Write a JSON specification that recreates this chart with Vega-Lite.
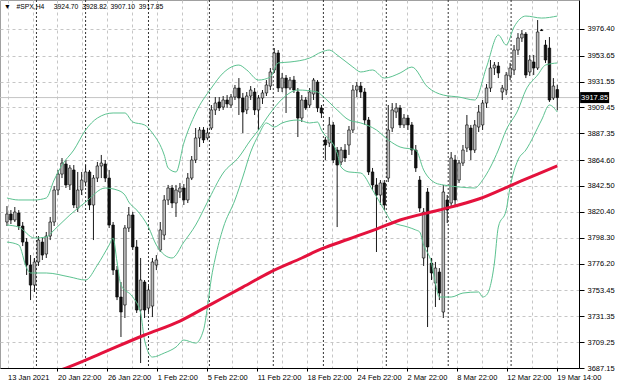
{
"$schema": "https://vega.github.io/schema/vega-lite/v6.json",
"width": 579, "height": 368,
"autosize": {"type": "none"},
"padding": {"left": 0, "top": 0, "right": 41, "bottom": 20},
"background": "white",
"view": {"stroke": "#a0a0a0", "strokeWidth": 1},
"config": {"font": "Liberation Sans", "axis": {"labelOverlap": false}},
"title": {"text": "▼\u00a0\u00a0\u00a0#SPX,H4\u00a0\u00a0\u00a0\u00a0\u00a03924.70\u00a0\u00a03928.82\u00a0\u00a03907.10\u00a0\u00a03917.85", "anchor": "start", "frame": "group", "offset": -11, "dx": 4, "fontSize": 6.8, "font": "Liberation Sans", "fontWeight": "normal", "color": "#000000"},
"datasets": {
"last": [{"p": 3917.85, "t": "3917.85"}],
"seps": [{"i": 7.5}, {"i": 20}, {"i": 36}, {"i": 51.5}, {"i": 67.75}, {"i": 80.5}, {"i": 96.5}, {"i": 112.25}, {"i": 128.25}],
"bars": [
{"i":0,"o":3811.7,"h":3825.3,"l":3808.3,"c":3818.5},
{"i":1,"o":3818.5,"h":3821.9,"l":3810.0,"c":3813.4},
{"i":2,"o":3813.4,"h":3824.5,"l":3811.7,"c":3820.2},
{"i":3,"o":3819.4,"h":3821.9,"l":3804.9,"c":3808.3},
{"i":4,"o":3808.3,"h":3811.7,"l":3791.2,"c":3794.6},
{"i":5,"o":3794.6,"h":3798.0,"l":3766.5,"c":3775.0},
{"i":6,"o":3775.0,"h":3783.5,"l":3745.1,"c":3757.9},
{"i":7,"o":3757.9,"h":3781.0,"l":3752.0,"c":3777.6},
{"i":8,"o":3777.6,"h":3799.7,"l":3774.2,"c":3796.3},
{"i":9,"o":3794.6,"h":3798.9,"l":3779.3,"c":3783.5},
{"i":10,"o":3784.4,"h":3803.2,"l":3781.0,"c":3799.7},
{"i":11,"o":3799.7,"h":3816.0,"l":3796.3,"c":3811.7},
{"i":12,"o":3811.7,"h":3842.4,"l":3808.3,"c":3839.0},
{"i":13,"o":3839.0,"h":3856.1,"l":3834.7,"c":3852.6},
{"i":14,"o":3852.6,"h":3866.3,"l":3849.2,"c":3862.0},
{"i":15,"o":3861.2,"h":3864.6,"l":3840.7,"c":3843.3},
{"i":16,"o":3843.3,"h":3860.3,"l":3839.0,"c":3857.8},
{"i":17,"o":3856.1,"h":3860.3,"l":3823.6,"c":3826.2},
{"i":18,"o":3823.6,"h":3854.4,"l":3820.2,"c":3839.0},
{"i":19,"o":3839.0,"h":3854.4,"l":3834.7,"c":3847.5},
{"i":20,"o":3845.8,"h":3860.3,"l":3842.4,"c":3854.4},
{"i":21,"o":3854.4,"h":3856.1,"l":3821.9,"c":3826.2},
{"i":22,"o":3826.2,"h":3851.8,"l":3796.3,"c":3849.2},
{"i":23,"o":3849.2,"h":3862.9,"l":3845.8,"c":3859.5},
{"i":24,"o":3859.5,"h":3868.9,"l":3849.2,"c":3862.0},
{"i":25,"o":3861.2,"h":3864.6,"l":3845.8,"c":3849.2},
{"i":26,"o":3849.2,"h":3856.1,"l":3806.6,"c":3809.1},
{"i":27,"o":3809.1,"h":3811.7,"l":3766.5,"c":3770.7},
{"i":28,"o":3770.7,"h":3774.2,"l":3745.1,"c":3747.7},
{"i":29,"o":3747.7,"h":3760.5,"l":3713.6,"c":3734.9},
{"i":30,"o":3740.9,"h":3809.1,"l":3729.8,"c":3806.6},
{"i":31,"o":3806.6,"h":3824.5,"l":3803.2,"c":3817.7},
{"i":32,"o":3817.7,"h":3820.2,"l":3787.8,"c":3790.4},
{"i":33,"o":3790.4,"h":3796.3,"l":3734.1,"c":3736.6},
{"i":34,"o":3736.6,"h":3781.0,"l":3691.4,"c":3762.2},
{"i":35,"o":3760.5,"h":3762.2,"l":3729.8,"c":3736.6},
{"i":36,"o":3738.3,"h":3757.1,"l":3734.9,"c":3753.7},
{"i":37,"o":3740.0,"h":3781.0,"l":3730.6,"c":3777.6},
{"i":38,"o":3775.0,"h":3783.5,"l":3770.7,"c":3779.3},
{"i":39,"o":3787.8,"h":3811.7,"l":3786.1,"c":3804.9},
{"i":40,"o":3800.6,"h":3834.7,"l":3796.3,"c":3830.5},
{"i":41,"o":3830.5,"h":3843.3,"l":3826.2,"c":3840.7},
{"i":42,"o":3840.7,"h":3843.3,"l":3823.6,"c":3827.9},
{"i":43,"o":3827.9,"h":3843.3,"l":3816.0,"c":3839.0},
{"i":44,"o":3837.3,"h":3845.0,"l":3832.2,"c":3840.7},
{"i":45,"o":3840.7,"h":3844.1,"l":3826.2,"c":3830.5},
{"i":46,"o":3830.5,"h":3853.5,"l":3827.9,"c":3849.2},
{"i":47,"o":3849.2,"h":3868.0,"l":3847.5,"c":3864.6},
{"i":48,"o":3864.6,"h":3891.9,"l":3862.0,"c":3883.4},
{"i":49,"o":3883.4,"h":3892.7,"l":3875.7,"c":3890.2},
{"i":50,"o":3890.2,"h":3892.7,"l":3879.1,"c":3881.7},
{"i":51,"o":3883.4,"h":3891.9,"l":3881.7,"c":3887.6},
{"i":52,"o":3891.9,"h":3911.5,"l":3890.2,"c":3907.3},
{"i":53,"o":3907.3,"h":3918.3,"l":3903.0,"c":3913.2},
{"i":54,"o":3914.1,"h":3918.3,"l":3906.4,"c":3909.0},
{"i":55,"o":3909.8,"h":3919.2,"l":3907.3,"c":3915.8},
{"i":56,"o":3915.8,"h":3920.0,"l":3909.0,"c":3912.4},
{"i":57,"o":3911.5,"h":3920.9,"l":3909.0,"c":3918.3},
{"i":58,"o":3918.3,"h":3928.6,"l":3915.8,"c":3926.0},
{"i":59,"o":3926.0,"h":3934.5,"l":3903.0,"c":3917.5},
{"i":60,"o":3917.5,"h":3921.8,"l":3887.6,"c":3905.5},
{"i":61,"o":3907.3,"h":3922.6,"l":3903.8,"c":3919.2},
{"i":62,"o":3919.2,"h":3927.7,"l":3915.8,"c":3924.3},
{"i":63,"o":3922.6,"h":3926.0,"l":3903.0,"c":3907.3},
{"i":64,"o":3907.3,"h":3920.0,"l":3890.2,"c":3917.5},
{"i":65,"o":3917.5,"h":3924.3,"l":3912.4,"c":3921.8},
{"i":66,"o":3921.8,"h":3932.8,"l":3919.2,"c":3928.6},
{"i":67,"o":3927.7,"h":3943.1,"l":3924.3,"c":3939.7},
{"i":68,"o":3941.4,"h":3960.1,"l":3938.8,"c":3955.9},
{"i":69,"o":3955.9,"h":3958.4,"l":3922.6,"c":3926.0},
{"i":70,"o":3926.0,"h":3938.8,"l":3922.6,"c":3934.5},
{"i":71,"o":3934.5,"h":3937.1,"l":3904.7,"c":3926.0},
{"i":72,"o":3926.0,"h":3935.4,"l":3924.3,"c":3932.8},
{"i":73,"o":3932.8,"h":3936.3,"l":3921.8,"c":3924.3},
{"i":74,"o":3922.6,"h":3926.0,"l":3884.2,"c":3900.4},
{"i":75,"o":3900.4,"h":3920.0,"l":3897.0,"c":3915.8},
{"i":76,"o":3915.8,"h":3918.3,"l":3907.3,"c":3909.0},
{"i":77,"o":3911.5,"h":3926.0,"l":3909.0,"c":3922.6},
{"i":78,"o":3920.9,"h":3934.5,"l":3915.8,"c":3932.8},
{"i":79,"o":3931.1,"h":3932.8,"l":3905.5,"c":3909.0},
{"i":80,"o":3909.0,"h":3911.5,"l":3900.4,"c":3904.7},
{"i":81,"o":3881.7,"h":3884.2,"l":3864.6,"c":3877.4},
{"i":82,"o":3879.1,"h":3901.3,"l":3875.7,"c":3894.5},
{"i":83,"o":3894.5,"h":3897.0,"l":3862.0,"c":3864.6},
{"i":84,"o":3873.1,"h":3875.7,"l":3807.4,"c":3860.3},
{"i":85,"o":3862.9,"h":3875.7,"l":3860.3,"c":3873.1},
{"i":86,"o":3873.1,"h":3878.2,"l":3862.9,"c":3866.3},
{"i":87,"o":3877.4,"h":3893.6,"l":3868.9,"c":3890.2},
{"i":88,"o":3890.2,"h":3928.6,"l":3887.6,"c":3924.3},
{"i":89,"o":3924.3,"h":3931.1,"l":3918.3,"c":3927.7},
{"i":90,"o":3927.7,"h":3931.1,"l":3917.5,"c":3922.6},
{"i":91,"o":3922.6,"h":3926.0,"l":3894.5,"c":3898.7},
{"i":92,"o":3898.7,"h":3901.3,"l":3851.8,"c":3854.4},
{"i":93,"o":3854.4,"h":3857.8,"l":3839.0,"c":3843.3},
{"i":94,"o":3843.3,"h":3849.2,"l":3786.1,"c":3834.7},
{"i":95,"o":3834.7,"h":3847.5,"l":3826.2,"c":3845.0},
{"i":96,"o":3845.0,"h":3847.5,"l":3821.9,"c":3826.2},
{"i":97,"o":3849.2,"h":3911.5,"l":3845.8,"c":3890.2},
{"i":98,"o":3891.9,"h":3913.2,"l":3888.5,"c":3907.3},
{"i":99,"o":3905.5,"h":3913.2,"l":3900.4,"c":3909.0},
{"i":100,"o":3909.0,"h":3911.5,"l":3891.9,"c":3894.5},
{"i":101,"o":3894.5,"h":3903.8,"l":3891.9,"c":3900.4},
{"i":102,"o":3900.4,"h":3903.0,"l":3890.2,"c":3894.5},
{"i":103,"o":3894.5,"h":3897.0,"l":3868.9,"c":3873.1},
{"i":104,"o":3873.1,"h":3877.4,"l":3854.4,"c":3857.8},
{"i":105,"o":3847.5,"h":3850.9,"l":3820.2,"c":3823.6},
{"i":106,"o":3781.0,"h":3823.6,"l":3774.2,"c":3820.2},
{"i":107,"o":3837.3,"h":3840.7,"l":3722.1,"c":3790.4},
{"i":108,"o":3776.7,"h":3781.0,"l":3762.2,"c":3768.2},
{"i":109,"o":3759.6,"h":3777.6,"l":3739.2,"c":3772.4},
{"i":110,"o":3769.0,"h":3772.4,"l":3745.1,"c":3751.1},
{"i":111,"o":3734.9,"h":3843.3,"l":3729.8,"c":3837.3},
{"i":112,"o":3830.5,"h":3834.7,"l":3810.8,"c":3821.9},
{"i":113,"o":3827.9,"h":3871.4,"l":3825.3,"c":3866.3},
{"i":114,"o":3864.6,"h":3868.9,"l":3826.2,"c":3830.5},
{"i":115,"o":3847.5,"h":3864.6,"l":3845.0,"c":3862.0},
{"i":116,"o":3862.0,"h":3877.4,"l":3859.5,"c":3873.1},
{"i":117,"o":3874.8,"h":3903.0,"l":3871.4,"c":3894.5},
{"i":118,"o":3891.9,"h":3894.5,"l":3864.6,"c":3873.1},
{"i":119,"o":3873.1,"h":3898.7,"l":3870.6,"c":3894.5},
{"i":120,"o":3892.7,"h":3911.5,"l":3888.5,"c":3905.5},
{"i":121,"o":3894.5,"h":3915.8,"l":3890.2,"c":3913.2},
{"i":122,"o":3913.2,"h":3929.4,"l":3909.0,"c":3926.0},
{"i":123,"o":3926.0,"h":3949.9,"l":3922.6,"c":3943.1},
{"i":124,"o":3943.1,"h":3948.2,"l":3937.1,"c":3945.6},
{"i":125,"o":3944.8,"h":3948.2,"l":3934.5,"c":3938.8},
{"i":126,"o":3922.6,"h":3928.6,"l":3915.8,"c":3926.0},
{"i":127,"o":3924.3,"h":3939.7,"l":3920.0,"c":3937.1},
{"i":128,"o":3936.3,"h":3947.4,"l":3932.8,"c":3943.1},
{"i":129,"o":3941.4,"h":3962.7,"l":3937.1,"c":3958.4},
{"i":130,"o":3958.4,"h":3972.9,"l":3954.2,"c":3968.7},
{"i":131,"o":3968.7,"h":3975.5,"l":3965.3,"c":3972.1},
{"i":132,"o":3972.1,"h":3973.8,"l":3934.5,"c":3937.1},
{"i":133,"o":3939.7,"h":3954.2,"l":3936.3,"c":3949.9},
{"i":134,"o":3948.2,"h":3954.2,"l":3937.1,"c":3943.1},
{"i":135,"o":3943.1,"h":3984.0,"l":3941.4,"c":3973.8},
{"i":136,"o":3975.5,"h":3976.4,"l":3974.7,"c":3975.0},
{"i":137,"o":3962.7,"h":3967.0,"l":3947.4,"c":3949.9},
{"i":138,"o":3960.1,"h":3969.5,"l":3914.1,"c":3915.8},
{"i":139,"o":3917.5,"h":3934.5,"l":3915.8,"c":3927.7},
{"i":140,"o":3924.70,"h":3928.82,"l":3907.10,"c":3917.85}
],
"bands": [
{"i":0,"b":"u","v":3832.2},{"i":3,"b":"u","v":3830.5},{"i":7,"b":"u","v":3830.5},{"i":10,"b":"u","v":3832.2},{"i":12,"b":"u","v":3847.5},{"i":14,"b":"u","v":3860.3},{"i":17,"b":"u","v":3873.1},{"i":20,"b":"u","v":3890.2},{"i":23,"b":"u","v":3900.4},{"i":27,"b":"u","v":3904.7},{"i":30,"b":"u","v":3904.7},{"i":32,"b":"u","v":3897.0},{"i":35,"b":"u","v":3894.5},{"i":37,"b":"u","v":3887.6},{"i":40,"b":"u","v":3868.9},{"i":41,"b":"u","v":3857.8},{"i":43,"b":"u","v":3854.4},{"i":45,"b":"u","v":3879.1},{"i":48,"b":"u","v":3904.7},{"i":52,"b":"u","v":3926.0},{"i":55,"b":"u","v":3938.8},{"i":59,"b":"u","v":3945.6},{"i":61,"b":"u","v":3941.4},{"i":64,"b":"u","v":3932.8},{"i":67,"b":"u","v":3935.4},{"i":69,"b":"u","v":3947.4},{"i":72,"b":"u","v":3948.2},{"i":77,"b":"u","v":3951.6},{"i":80,"b":"u","v":3956.7},{"i":82,"b":"u","v":3958.4},{"i":84,"b":"u","v":3954.2},{"i":88,"b":"u","v":3943.9},{"i":90,"b":"u","v":3939.7},{"i":93,"b":"u","v":3941.4},{"i":96,"b":"u","v":3934.5},{"i":100,"b":"u","v":3938.8},{"i":103,"b":"u","v":3943.9},{"i":107,"b":"u","v":3926.9},{"i":111,"b":"u","v":3920.0},{"i":115,"b":"u","v":3918.3},{"i":119,"b":"u","v":3915.8},{"i":122,"b":"u","v":3943.9},{"i":125,"b":"u","v":3971.2},{"i":127,"b":"u","v":3962.7},{"i":129,"b":"u","v":3978.1},{"i":132,"b":"u","v":3987.4},{"i":136,"b":"u","v":3985.7},{"i":140,"b":"u","v":3987.4},
{"i":0,"b":"m","v":3809.1},{"i":3,"b":"m","v":3807.4},{"i":7,"b":"m","v":3798.0},{"i":10,"b":"m","v":3798.9},{"i":12,"b":"m","v":3804.9},{"i":16,"b":"m","v":3817.7},{"i":20,"b":"m","v":3828.7},{"i":25,"b":"m","v":3840.7},{"i":28,"b":"m","v":3839.0},{"i":30,"b":"m","v":3834.7},{"i":31,"b":"m","v":3828.7},{"i":33,"b":"m","v":3821.9},{"i":36,"b":"m","v":3807.4},{"i":38,"b":"m","v":3792.1},{"i":42,"b":"m","v":3781.0},{"i":45,"b":"m","v":3794.6},{"i":48,"b":"m","v":3809.1},{"i":51,"b":"m","v":3828.7},{"i":55,"b":"m","v":3853.5},{"i":59,"b":"m","v":3867.1},{"i":62,"b":"m","v":3881.7},{"i":64,"b":"m","v":3890.2},{"i":67,"b":"m","v":3904.7},{"i":70,"b":"m","v":3916.6},{"i":74,"b":"m","v":3924.3},{"i":79,"b":"m","v":3922.6},{"i":80,"b":"m","v":3920.0},{"i":84,"b":"m","v":3907.3},{"i":87,"b":"m","v":3898.7},{"i":90,"b":"m","v":3896.2},{"i":94,"b":"m","v":3890.2},{"i":97,"b":"m","v":3881.7},{"i":100,"b":"m","v":3875.7},{"i":104,"b":"m","v":3873.1},{"i":106,"b":"m","v":3856.1},{"i":109,"b":"m","v":3845.0},{"i":111,"b":"m","v":3843.3},{"i":115,"b":"m","v":3841.6},{"i":119,"b":"m","v":3840.7},{"i":121,"b":"m","v":3847.5},{"i":123,"b":"m","v":3858.6},{"i":125,"b":"m","v":3873.1},{"i":127,"b":"m","v":3890.2},{"i":130,"b":"m","v":3907.3},{"i":132,"b":"m","v":3924.3},{"i":135,"b":"m","v":3937.1},{"i":137,"b":"m","v":3945.6},{"i":140,"b":"m","v":3947.4},
{"i":0,"b":"l","v":3794.6},{"i":3,"b":"l","v":3792.1},{"i":5,"b":"l","v":3772.4},{"i":6,"b":"l","v":3768.2},{"i":10,"b":"l","v":3768.2},{"i":16,"b":"l","v":3764.8},{"i":20,"b":"l","v":3762.2},{"i":23,"b":"l","v":3775.0},{"i":26,"b":"l","v":3792.1},{"i":27,"b":"l","v":3798.0},{"i":28,"b":"l","v":3777.6},{"i":29,"b":"l","v":3757.9},{"i":32,"b":"l","v":3747.7},{"i":34,"b":"l","v":3734.1},{"i":35,"b":"l","v":3711.0},{"i":37,"b":"l","v":3696.5},{"i":40,"b":"l","v":3699.9},{"i":43,"b":"l","v":3705.0},{"i":45,"b":"l","v":3711.0},{"i":48,"b":"l","v":3708.4},{"i":50,"b":"l","v":3719.5},{"i":51,"b":"l","v":3739.2},{"i":52,"b":"l","v":3763.9},{"i":53,"b":"l","v":3781.0},{"i":55,"b":"l","v":3806.6},{"i":58,"b":"l","v":3830.5},{"i":60,"b":"l","v":3850.1},{"i":62,"b":"l","v":3871.4},{"i":64,"b":"l","v":3885.9},{"i":66,"b":"l","v":3896.2},{"i":68,"b":"l","v":3892.7},{"i":70,"b":"l","v":3896.2},{"i":74,"b":"l","v":3898.7},{"i":77,"b":"l","v":3896.2},{"i":79,"b":"l","v":3897.0},{"i":80,"b":"l","v":3890.2},{"i":84,"b":"l","v":3870.6},{"i":85,"b":"l","v":3858.6},{"i":87,"b":"l","v":3854.4},{"i":90,"b":"l","v":3853.5},{"i":93,"b":"l","v":3839.0},{"i":96,"b":"l","v":3821.9},{"i":98,"b":"l","v":3811.7},{"i":102,"b":"l","v":3807.4},{"i":104,"b":"l","v":3804.9},{"i":105,"b":"l","v":3803.2},{"i":106,"b":"l","v":3792.1},{"i":108,"b":"l","v":3776.7},{"i":109,"b":"l","v":3759.6},{"i":110,"b":"l","v":3747.7},{"i":113,"b":"l","v":3747.7},{"i":116,"b":"l","v":3751.1},{"i":120,"b":"l","v":3752.0},{"i":121,"b":"l","v":3747.7},{"i":122,"b":"l","v":3749.4},{"i":124,"b":"l","v":3776.7},{"i":125,"b":"l","v":3807.4},{"i":127,"b":"l","v":3821.9},{"i":128,"b":"l","v":3841.6},{"i":130,"b":"l","v":3864.6},{"i":132,"b":"l","v":3873.1},{"i":136,"b":"l","v":3898.7},{"i":138,"b":"l","v":3911.5},{"i":140,"b":"l","v":3905.5}
],
"ma": [
{"i":13,"v":3684.6},{"i":15,"v":3687.1},{"i":23,"v":3698.2},{"i":35,"v":3715.3},{"i":44,"v":3727.2},{"i":52,"v":3741.7},{"i":60,"v":3756.2},{"i":67,"v":3769.0},{"i":75,"v":3781.0},{"i":80,"v":3788.7},{"i":87,"v":3797.2},{"i":94,"v":3805.7},{"i":100,"v":3813.4},{"i":110,"v":3821.9},{"i":120,"v":3831.3},{"i":129,"v":3844.1},{"i":135,"v":3852.6},{"i":140,"v":3859.5}
]
},
"layer": [
{"data": {"name": "last"}, "mark": {"type": "rule", "color": "#c4c4c4", "strokeWidth": 1},
 "encoding": {"y": {"field": "p", "type": "quantitative", "title": null, "scale": {"domain": [3687.15, 4001.1], "nice": false, "zero": false},
   "axis": {"orient": "right", "tickCount": 40, "values": [3687.15, 3709.25, 3731.35, 3753.45, 3776.20, 3798.30, 3820.40, 3842.50, 3864.60, 3887.35, 3909.45, 3931.55, 3953.65, 3976.40],
    "format": ".2f", "labelFont": "Liberation Sans", "labelFontSize": 7.5, "labelColor": "#000000", "labelPadding": 3, "labelFlush": false, "labelOverlap": false, "labelBound": false, "labelBaseline": "middle",
    "tickSize": 5, "tickColor": "#000000", "domain": true, "domainColor": "#000000", "domainWidth": 1,
    "grid": true, "gridColor": "#c6c6c6", "gridDash": [3, 3], "gridWidth": 1}}}},
{"data": {"name": "seps"}, "mark": {"type": "rule", "color": "#333333", "strokeWidth": 1, "strokeDash": [2, 2]},
 "encoding": {"x": {"field": "i", "type": "quantitative", "title": null, "scale": {"domain": [-0.5, 144.25], "nice": false, "zero": false},
   "axis": {"tickCount": 60, "values": [0.15, 6.5, 12.85, 19.2, 25.55, 31.9, 38.25, 44.6, 50.95, 57.3, 63.65, 70, 76.35, 82.7, 89.05, 95.4, 101.75, 108.1, 114.45, 120.8, 127.15, 133.5, 139.85],
    "labelExpr": "['13 Jan 2021','','20 Jan 22:00','','26 Jan 22:00','','1 Feb 22:00','','5 Feb 22:00','','11 Feb 22:00','','18 Feb 22:00','','24 Feb 22:00','','2 Mar 22:00','','8 Mar 22:00','','12 Mar 22:00','','19 Mar 14:00'][round((datum.value-0.15)/6.35)]",
    "labelAlign": "left", "labelFlush": false, "labelOverlap": false, "labelBound": false, "labelFont": "Liberation Sans", "labelFontSize": 7.5, "labelColor": "#000000", "labelPadding": 2,
    "tickSize": 3, "tickColor": "#000000", "tickOpacity": {"condition": {"test": "round((datum.value-0.15)/6.35) % 2 == 0 && datum.value > 1", "value": 1}, "value": 0},
    "domain": true, "domainColor": "#000000", "domainWidth": 1,
    "grid": true, "gridColor": "#c6c6c6", "gridDash": [3, 3], "gridWidth": 1}}}},
{"data": {"name": "bars"}, "mark": {"type": "rule", "color": "#1a1a1a", "strokeWidth": 1},
 "encoding": {
  "x": {"field": "i", "type": "quantitative", "title": null, "scale": {"domain": [-0.5, 144.25], "nice": false, "zero": false}},
  "y": {"field": "l", "type": "quantitative", "title": null, "scale": {"domain": [3687.15, 4001.1], "nice": false, "zero": false}},
  "y2": {"field": "h"}}},
{"data": {"name": "bars"}, "mark": {"type": "bar", "size": 2.6, "stroke": "#000000", "strokeWidth": 0.6},
 "encoding": {
  "x": {"field": "i", "type": "quantitative", "title": null, "scale": {"domain": [-0.5, 144.25], "nice": false, "zero": false}},
  "y": {"field": "o", "type": "quantitative", "title": null, "scale": {"domain": [3687.15, 4001.1], "nice": false, "zero": false}},
  "y2": {"field": "c"},
  "fill": {"condition": {"test": "datum.c >= datum.o", "value": "#bdbdbd"}, "value": "#111111"}}},
{"data": {"name": "bands"}, "mark": {"type": "line", "interpolate": "monotone", "strokeWidth": 1, "color": "#5cc290"},
 "encoding": {
  "x": {"field": "i", "type": "quantitative", "title": null, "scale": {"domain": [-0.5, 144.25], "nice": false, "zero": false}},
  "y": {"field": "v", "type": "quantitative", "title": null, "scale": {"domain": [3687.15, 4001.1], "nice": false, "zero": false}},
  "detail": {"field": "b", "type": "nominal"}}},
{"data": {"name": "ma"}, "mark": {"type": "line", "interpolate": "monotone", "strokeWidth": 3, "color": "#e4123d", "clip": true},
 "encoding": {
  "x": {"field": "i", "type": "quantitative", "title": null, "scale": {"domain": [-0.5, 144.25], "nice": false, "zero": false}},
  "y": {"field": "v", "type": "quantitative", "title": null, "scale": {"domain": [3687.15, 4001.1], "nice": false, "zero": false}}}},
{"data": {"name": "last"}, "mark": {"type": "point", "shape": "M-1,-0.38L1,-0.38L1,0.38L-1,0.38Z", "size": 841, "filled": true, "color": "#000000", "opacity": 1, "strokeWidth": 0, "clip": false},
 "encoding": {
  "x": {"datum": 149.5, "type": "quantitative", "scale": {"domain": [-0.5, 144.25], "nice": false, "zero": false}},
  "y": {"field": "p", "type": "quantitative", "title": null, "scale": {"domain": [3687.15, 4001.1], "nice": false, "zero": false}}}},
{"data": {"name": "last"}, "mark": {"type": "text", "color": "#ffffff", "font": "Liberation Sans", "fontSize": 7.5, "align": "center", "baseline": "middle", "clip": false},
 "encoding": {
  "x": {"datum": 149.5, "type": "quantitative", "scale": {"domain": [-0.5, 144.25], "nice": false, "zero": false}},
  "y": {"field": "p", "type": "quantitative", "title": null, "scale": {"domain": [3687.15, 4001.1], "nice": false, "zero": false}},
  "text": {"field": "t"}}}
]
}
